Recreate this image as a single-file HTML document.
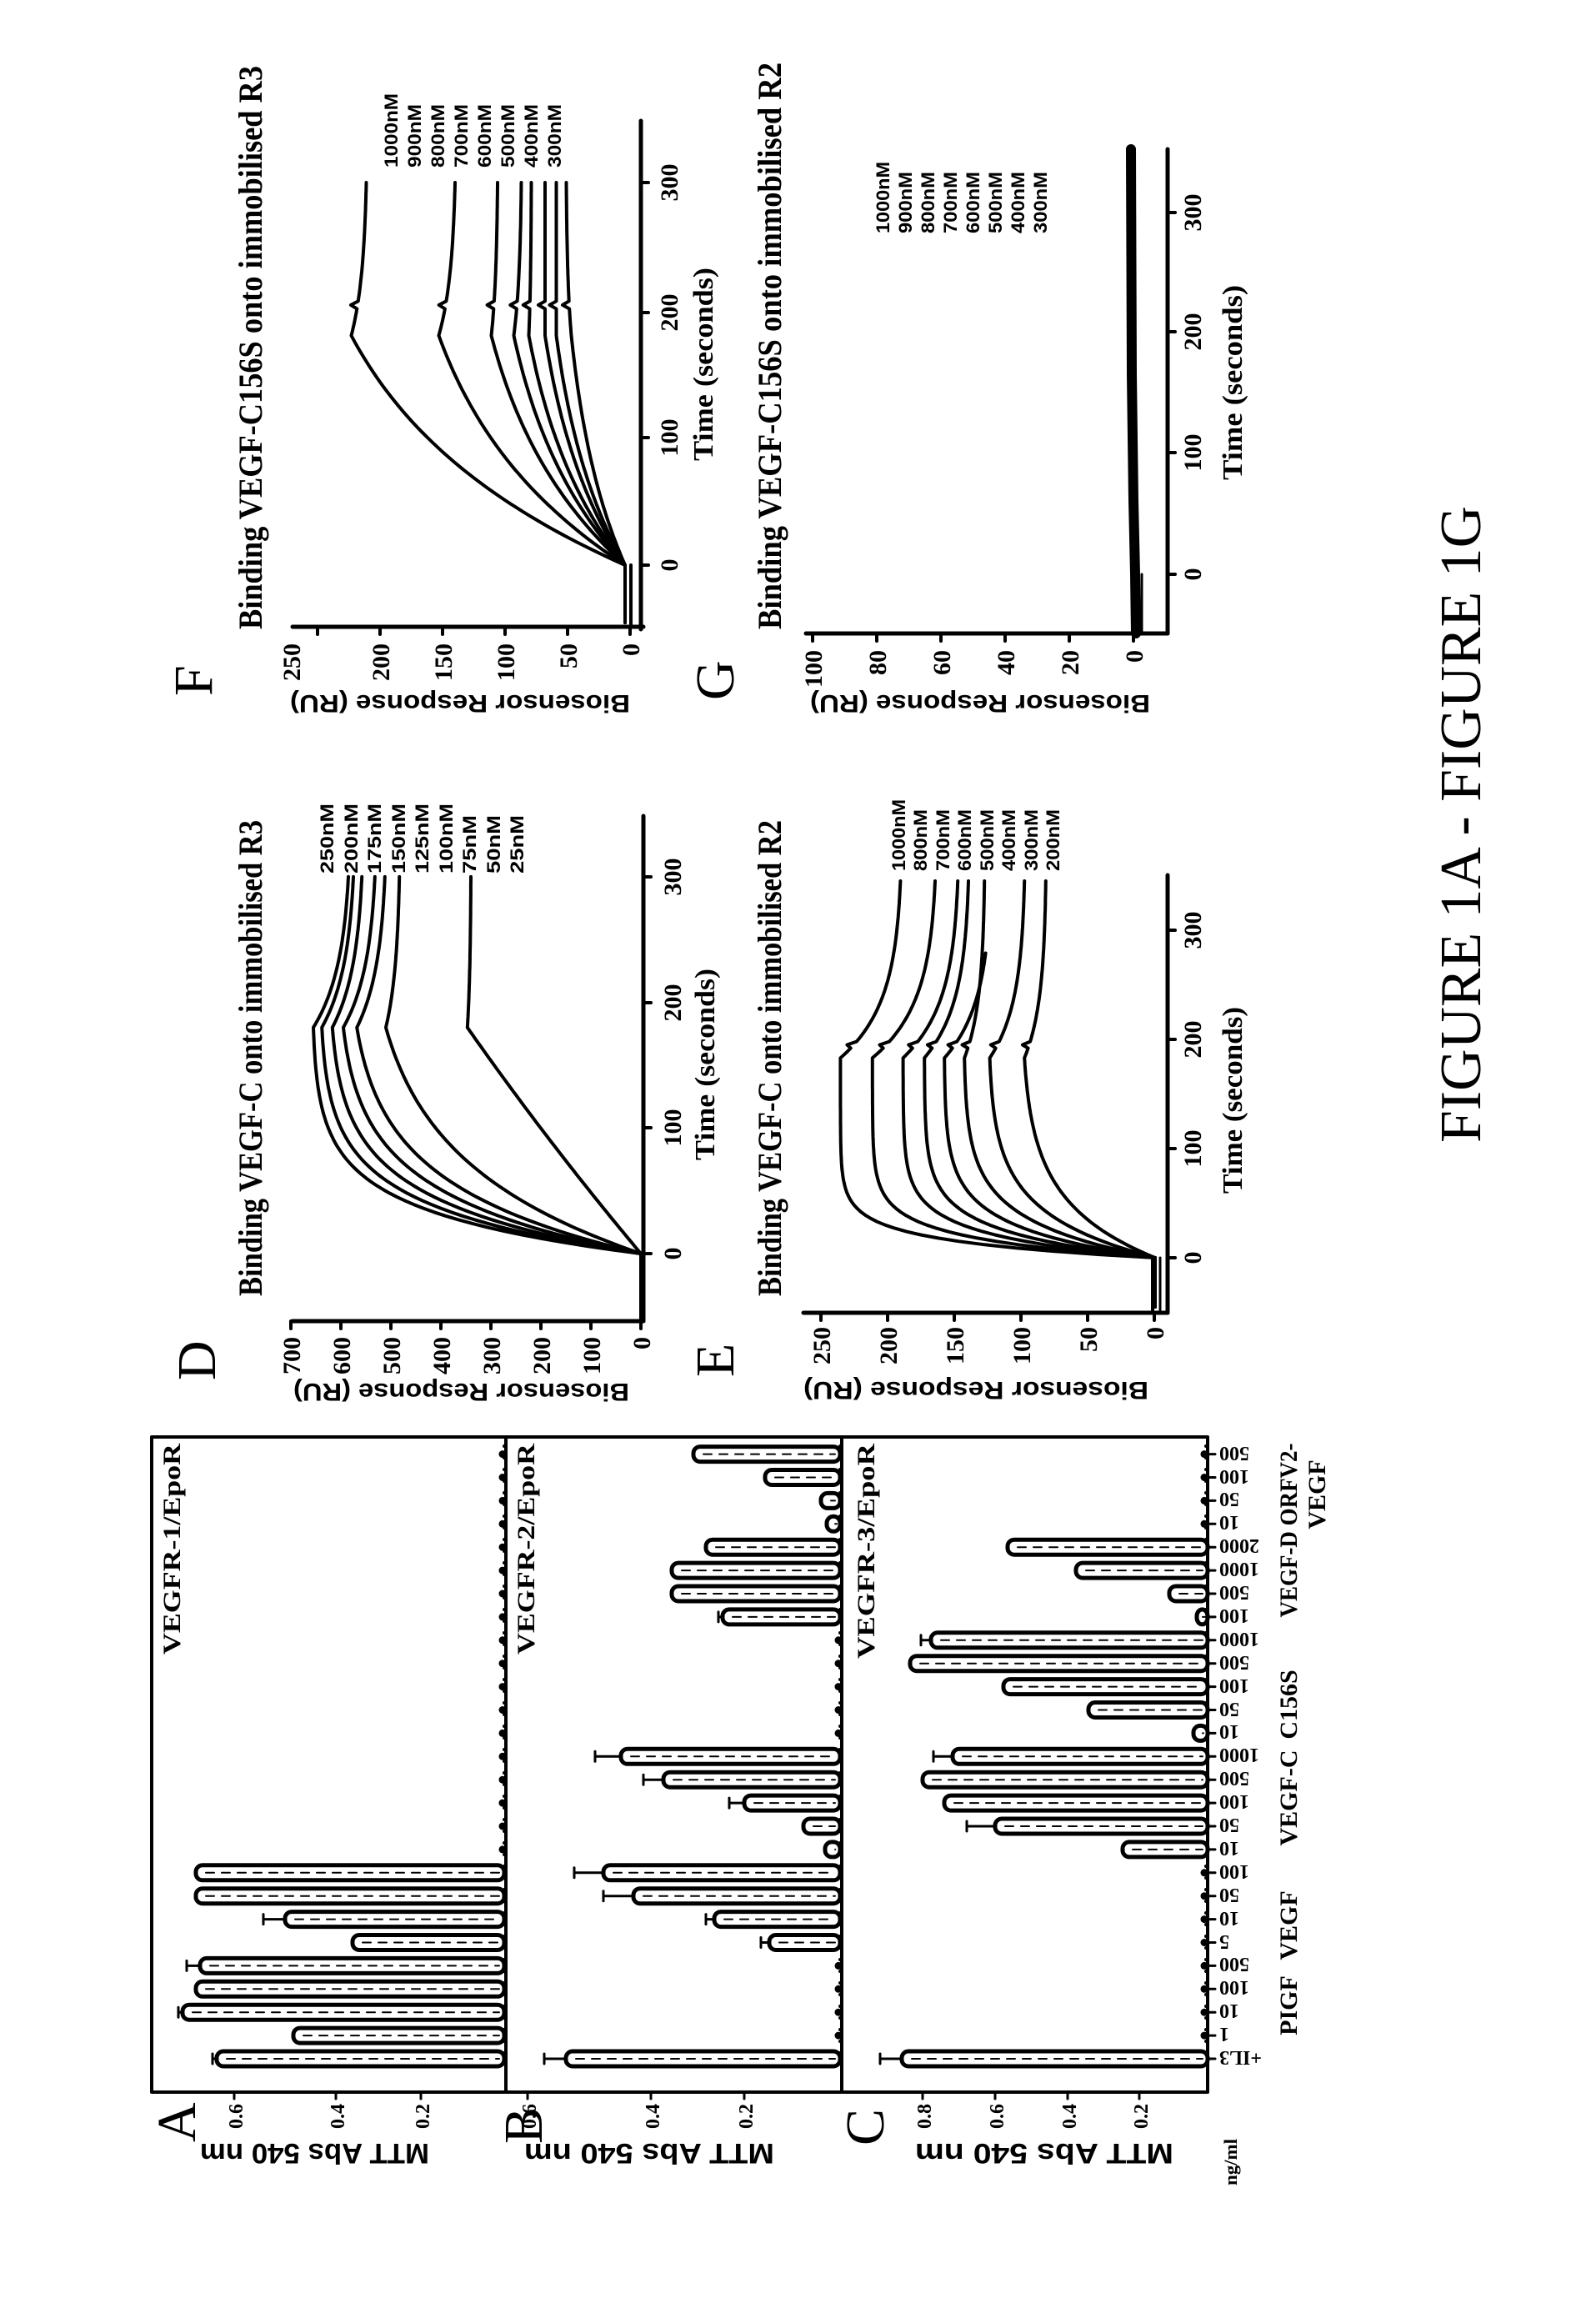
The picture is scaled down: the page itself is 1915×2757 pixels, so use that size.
<!DOCTYPE html>
<html><head><meta charset="utf-8"><style>
html,body{margin:0;padding:0;background:#fff;}
svg{display:block;}
text{font-family:"Liberation Serif",serif;font-weight:bold;fill:#000;}
.s{font-family:"Liberation Sans",sans-serif;}
</style></head><body>
<svg id="svg" width="1915" height="2757" viewBox="0 0 1915 2757" xmlns="http://www.w3.org/2000/svg">
<rect width="1915" height="2757" fill="#fff"/>
<g id="dyn" stroke="#000" fill="none" stroke-linecap="round" stroke-linejoin="round"></g>

<text transform="translate(1776,1371) rotate(-90)" font-size="70" style="font-weight:normal" textLength="764" lengthAdjust="spacingAndGlyphs">FIGURE 1A - FIGURE 1G</text>

<text transform="translate(314,755) rotate(-90)" font-size="40" textLength="676" lengthAdjust="spacingAndGlyphs">Binding VEGF-C156S onto immobilised R3</text>
<text transform="translate(937,755) rotate(-90)" font-size="40" textLength="680" lengthAdjust="spacingAndGlyphs">Binding VEGF-C156S onto immobilised R2</text>
<text transform="translate(314,1555) rotate(-90)" font-size="40" textLength="571" lengthAdjust="spacingAndGlyphs">Binding VEGF-C onto immobilised R3</text>
<text transform="translate(937,1555) rotate(-90)" font-size="40" textLength="571" lengthAdjust="spacingAndGlyphs">Binding VEGF-C onto immobilised R2</text>

<text transform="translate(254,835) rotate(-90)" font-size="66" style="font-weight:normal">F</text>
<text transform="translate(880,840) rotate(-90)" font-size="66" style="font-weight:normal">G</text>
<text transform="translate(258,1656) rotate(-90)" font-size="66" style="font-weight:normal">D</text>
<text transform="translate(880,1652) rotate(-90)" font-size="66" style="font-weight:normal">E</text>
<text transform="translate(234,2570) rotate(-90)" font-size="66" style="font-weight:normal">A</text>
<text transform="translate(650,2572) rotate(-90)" font-size="66" style="font-weight:normal">B</text>
<text transform="translate(1060,2574) rotate(-90)" font-size="66" style="font-weight:normal">C</text>

<g class="s" font-size="30">
<text class="s" transform="translate(756,834) rotate(180)" textLength="408" lengthAdjust="spacingAndGlyphs">Biosensor Response (RU)</text>
<text class="s" transform="translate(1380,834) rotate(180)" textLength="408" lengthAdjust="spacingAndGlyphs">Biosensor Response (RU)</text>
<text class="s" transform="translate(755,1660) rotate(180)" textLength="403" lengthAdjust="spacingAndGlyphs">Biosensor Response (RU)</text>
<text class="s" transform="translate(1378,1658) rotate(180)" textLength="414" lengthAdjust="spacingAndGlyphs">Biosensor Response (RU)</text>
</g>
<text class="s" transform="translate(515,2572) rotate(180)" font-size="34" textLength="275" lengthAdjust="spacingAndGlyphs">MTT Abs 540 nm</text>
<text class="s" transform="translate(929,2572) rotate(180)" font-size="34" textLength="300" lengthAdjust="spacingAndGlyphs">MTT Abs 540 nm</text>
<text class="s" transform="translate(1408,2572) rotate(180)" font-size="34" textLength="310" lengthAdjust="spacingAndGlyphs">MTT Abs 540 nm</text>
<text transform="translate(1484,2622) rotate(-90)" font-size="22" textLength="56" lengthAdjust="spacingAndGlyphs">ng/ml</text>

<g font-size="30">
<text transform="translate(360,772) rotate(-90)" text-anchor="end">250</text>
<text transform="translate(467,772) rotate(-90)" text-anchor="end">200</text>
<text transform="translate(542,772) rotate(-90)" text-anchor="end">150</text>
<text transform="translate(617,772) rotate(-90)" text-anchor="end">100</text>
<text transform="translate(692,772) rotate(-90)" text-anchor="end">50</text>
<text transform="translate(767,772) rotate(-90)" text-anchor="end">0</text>

<text transform="translate(986,780) rotate(-90)" text-anchor="end">100</text>
<text transform="translate(1063,780) rotate(-90)" text-anchor="end">80</text>
<text transform="translate(1140,780) rotate(-90)" text-anchor="end">60</text>
<text transform="translate(1217,780) rotate(-90)" text-anchor="end">40</text>
<text transform="translate(1294,780) rotate(-90)" text-anchor="end">20</text>
<text transform="translate(1371,780) rotate(-90)" text-anchor="end">0</text>

<text transform="translate(360,1604) rotate(-90)" text-anchor="end">700</text>
<text transform="translate(420,1604) rotate(-90)" text-anchor="end">600</text>
<text transform="translate(480,1604) rotate(-90)" text-anchor="end">500</text>
<text transform="translate(540,1604) rotate(-90)" text-anchor="end">400</text>
<text transform="translate(600,1604) rotate(-90)" text-anchor="end">300</text>
<text transform="translate(660,1604) rotate(-90)" text-anchor="end">200</text>
<text transform="translate(720,1604) rotate(-90)" text-anchor="end">100</text>
<text transform="translate(780,1604) rotate(-90)" text-anchor="end">0</text>

<text transform="translate(996,1592) rotate(-90)" text-anchor="end">250</text>
<text transform="translate(1076,1592) rotate(-90)" text-anchor="end">200</text>
<text transform="translate(1156,1592) rotate(-90)" text-anchor="end">150</text>
<text transform="translate(1236,1592) rotate(-90)" text-anchor="end">100</text>
<text transform="translate(1316,1592) rotate(-90)" text-anchor="end">50</text>
<text transform="translate(1396,1592) rotate(-90)" text-anchor="end">0</text>
</g>

<g font-size="30" text-anchor="middle">
<text transform="translate(813,678) rotate(-90)">0</text>
<text transform="translate(813,525) rotate(-90)">100</text>
<text transform="translate(813,375) rotate(-90)">200</text>
<text transform="translate(813,219) rotate(-90)">300</text>
<text transform="translate(1441,689) rotate(-90)">0</text>
<text transform="translate(1441,543) rotate(-90)">100</text>
<text transform="translate(1441,398) rotate(-90)">200</text>
<text transform="translate(1441,255) rotate(-90)">300</text>
<text transform="translate(817,1504) rotate(-90)">0</text>
<text transform="translate(817,1353) rotate(-90)">100</text>
<text transform="translate(817,1203) rotate(-90)">200</text>
<text transform="translate(817,1052) rotate(-90)">300</text>
<text transform="translate(1441,1509) rotate(-90)">0</text>
<text transform="translate(1441,1378) rotate(-90)">100</text>
<text transform="translate(1441,1247) rotate(-90)">200</text>
<text transform="translate(1441,1116) rotate(-90)">300</text>
</g>
<g font-size="34" text-anchor="middle">
<text transform="translate(855,437) rotate(-90)" textLength="232" lengthAdjust="spacingAndGlyphs">Time (seconds)</text>
<text transform="translate(1490,459) rotate(-90)" textLength="234" lengthAdjust="spacingAndGlyphs">Time (seconds)</text>
<text transform="translate(857,1277) rotate(-90)" textLength="230" lengthAdjust="spacingAndGlyphs">Time (seconds)</text>
<text transform="translate(1490,1320) rotate(-90)" textLength="224" lengthAdjust="spacingAndGlyphs">Time (seconds)</text>
</g>

<g class="s" font-size="22" font-weight="bold">
<text class="s" transform="translate(477,201) rotate(-90)" textLength="89" lengthAdjust="spacingAndGlyphs">1000nM</text>
<text class="s" transform="translate(505,201) rotate(-90)" textLength="76" lengthAdjust="spacingAndGlyphs">900nM</text>
<text class="s" transform="translate(533,201) rotate(-90)" textLength="76" lengthAdjust="spacingAndGlyphs">800nM</text>
<text class="s" transform="translate(561,201) rotate(-90)" textLength="76" lengthAdjust="spacingAndGlyphs">700nM</text>
<text class="s" transform="translate(589,201) rotate(-90)" textLength="76" lengthAdjust="spacingAndGlyphs">600nM</text>
<text class="s" transform="translate(617,201) rotate(-90)" textLength="76" lengthAdjust="spacingAndGlyphs">500nM</text>
<text class="s" transform="translate(645,201) rotate(-90)" textLength="76" lengthAdjust="spacingAndGlyphs">400nM</text>
<text class="s" transform="translate(673,201) rotate(-90)" textLength="76" lengthAdjust="spacingAndGlyphs">300nM</text>

<text class="s" transform="translate(1067,280) rotate(-90)" textLength="86" lengthAdjust="spacingAndGlyphs">1000nM</text>
<text class="s" transform="translate(1094,280) rotate(-90)" textLength="74" lengthAdjust="spacingAndGlyphs">900nM</text>
<text class="s" transform="translate(1121,280) rotate(-90)" textLength="74" lengthAdjust="spacingAndGlyphs">800nM</text>
<text class="s" transform="translate(1148,280) rotate(-90)" textLength="74" lengthAdjust="spacingAndGlyphs">700nM</text>
<text class="s" transform="translate(1175,280) rotate(-90)" textLength="74" lengthAdjust="spacingAndGlyphs">600nM</text>
<text class="s" transform="translate(1202,280) rotate(-90)" textLength="74" lengthAdjust="spacingAndGlyphs">500nM</text>
<text class="s" transform="translate(1229,280) rotate(-90)" textLength="74" lengthAdjust="spacingAndGlyphs">400nM</text>
<text class="s" transform="translate(1256,280) rotate(-90)" textLength="74" lengthAdjust="spacingAndGlyphs">300nM</text>

<text class="s" transform="translate(400,1048) rotate(-90)" textLength="84" lengthAdjust="spacingAndGlyphs">250nM</text>
<text class="s" transform="translate(429,1048) rotate(-90)" textLength="84" lengthAdjust="spacingAndGlyphs">200nM</text>
<text class="s" transform="translate(457,1048) rotate(-90)" textLength="84" lengthAdjust="spacingAndGlyphs">175nM</text>
<text class="s" transform="translate(486,1048) rotate(-90)" textLength="84" lengthAdjust="spacingAndGlyphs">150nM</text>
<text class="s" transform="translate(514,1048) rotate(-90)" textLength="84" lengthAdjust="spacingAndGlyphs">125nM</text>
<text class="s" transform="translate(543,1048) rotate(-90)" textLength="84" lengthAdjust="spacingAndGlyphs">100nM</text>
<text class="s" transform="translate(571,1048) rotate(-90)" textLength="70" lengthAdjust="spacingAndGlyphs">75nM</text>
<text class="s" transform="translate(600,1048) rotate(-90)" textLength="70" lengthAdjust="spacingAndGlyphs">50nM</text>
<text class="s" transform="translate(628,1048) rotate(-90)" textLength="70" lengthAdjust="spacingAndGlyphs">25nM</text>

<text class="s" transform="translate(1086,1045) rotate(-90)" textLength="86" lengthAdjust="spacingAndGlyphs">1000nM</text>
<text class="s" transform="translate(1112,1045) rotate(-90)" textLength="74" lengthAdjust="spacingAndGlyphs">800nM</text>
<text class="s" transform="translate(1139,1045) rotate(-90)" textLength="74" lengthAdjust="spacingAndGlyphs">700nM</text>
<text class="s" transform="translate(1165,1045) rotate(-90)" textLength="74" lengthAdjust="spacingAndGlyphs">600nM</text>
<text class="s" transform="translate(1192,1045) rotate(-90)" textLength="74" lengthAdjust="spacingAndGlyphs">500nM</text>
<text class="s" transform="translate(1218,1045) rotate(-90)" textLength="74" lengthAdjust="spacingAndGlyphs">400nM</text>
<text class="s" transform="translate(1245,1045) rotate(-90)" textLength="74" lengthAdjust="spacingAndGlyphs">300nM</text>
<text class="s" transform="translate(1271,1045) rotate(-90)" textLength="74" lengthAdjust="spacingAndGlyphs">200nM</text>
</g>

<text transform="translate(216,1985) rotate(-90)" font-size="30" textLength="253" lengthAdjust="spacingAndGlyphs">VEGFR-1/EpoR</text>
<text transform="translate(641,1985) rotate(-90)" font-size="30" textLength="253" lengthAdjust="spacingAndGlyphs">VEGFR-2/EpoR</text>
<text transform="translate(1049,1990) rotate(-90)" font-size="30" textLength="258" lengthAdjust="spacingAndGlyphs">VEGFR-3/EpoR</text>

<g font-size="24">
<text transform="translate(291,2524) rotate(-90)" text-anchor="end">0.6</text>
<text transform="translate(413,2524) rotate(-90)" text-anchor="end">0.4</text>
<text transform="translate(515,2524) rotate(-90)" text-anchor="end">0.2</text>
<text transform="translate(643,2524) rotate(-90)" text-anchor="end">0.6</text>
<text transform="translate(791,2524) rotate(-90)" text-anchor="end">0.4</text>
<text transform="translate(903,2524) rotate(-90)" text-anchor="end">0.2</text>
<text transform="translate(1117,2524) rotate(-90)" text-anchor="end">0.8</text>
<text transform="translate(1204,2524) rotate(-90)" text-anchor="end">0.6</text>
<text transform="translate(1291,2524) rotate(-90)" text-anchor="end">0.4</text>
<text transform="translate(1377,2524) rotate(-90)" text-anchor="end">0.2</text>
</g>

<g font-size="30" text-anchor="middle">
<text transform="translate(1556,2406) rotate(-90)">PIGF</text>
<text transform="translate(1556,2310) rotate(-90)">VEGF</text>
<text transform="translate(1556,2157) rotate(-90)">VEGF-C</text>
<text transform="translate(1556,2045) rotate(-90)">C156S</text>
<text transform="translate(1556,1836) rotate(-90)" textLength="209" lengthAdjust="spacingAndGlyphs">VEGF-D ORFV2-</text>
<text transform="translate(1590,1793) rotate(-90)">VEGF</text>
</g>

<g id="xl" font-size="24" text-anchor="end">
<text transform="translate(1463,2461) rotate(180)">+IL3</text>
<text transform="translate(1463,2433) rotate(180)">1</text>
<text transform="translate(1463,2405) rotate(180)">10</text>
<text transform="translate(1463,2377) rotate(180)">100</text>
<text transform="translate(1463,2349) rotate(180)">500</text>
<text transform="translate(1463,2322) rotate(180)">5</text>
<text transform="translate(1463,2294) rotate(180)">10</text>
<text transform="translate(1463,2266) rotate(180)">50</text>
<text transform="translate(1463,2238) rotate(180)">100</text>
<text transform="translate(1463,2210) rotate(180)">10</text>
<text transform="translate(1463,2182) rotate(180)">50</text>
<text transform="translate(1463,2154) rotate(180)">100</text>
<text transform="translate(1463,2126) rotate(180)">500</text>
<text transform="translate(1463,2098) rotate(180)">1000</text>
<text transform="translate(1463,2070) rotate(180)">10</text>
<text transform="translate(1463,2043) rotate(180)">50</text>
<text transform="translate(1463,2015) rotate(180)">100</text>
<text transform="translate(1463,1987) rotate(180)">500</text>
<text transform="translate(1463,1959) rotate(180)">1000</text>
<text transform="translate(1463,1931) rotate(180)">100</text>
<text transform="translate(1463,1903) rotate(180)">500</text>
<text transform="translate(1463,1875) rotate(180)">1000</text>
<text transform="translate(1463,1847) rotate(180)">2000</text>
<text transform="translate(1463,1819) rotate(180)">10</text>
<text transform="translate(1463,1791) rotate(180)">50</text>
<text transform="translate(1463,1764) rotate(180)">100</text>
<text transform="translate(1463,1736) rotate(180)">500</text>
</g>
</svg>
<script>
(function(){
var g=document.getElementById('dyn');var NS='http://www.w3.org/2000/svg';
function el(n,a){var e=document.createElementNS(NS,n);for(var k in a)e.setAttribute(k,a[k]);g.appendChild(e);return e;}
function line(x1,y1,x2,y2,w){el('line',{x1:x1,y1:y1,x2:x2,y2:y2,'stroke-width':w||4});}
function axes(vy,vx1,vx2,tx,ty1,ty2,vt,tt){
 line(vx1,vy,vx2,vy,5);line(tx,ty1,tx,ty2,5);
 vt.forEach(function(x){line(x,vy,x,vy+9,4);});
 tt.forEach(function(y){line(tx,y,tx+9,y,4);});
}
axes(752,351,772,769,145,755,[381,456,531,606,681,756],[678,525,375,219]);
axes(760,967,1401,1401,179,760,[975,1052,1129,1206,1283,1360],[689,543,398,255]);
axes(1585,351,772,772,979,1585,[349,409,469,529,589,649,709,769],[1504,1353,1203,1052]);
axes(1575,964,1401,1401,1050,1575,[985,1065,1145,1225,1305,1385],[1509,1378,1247,1116]);
function curve(p,P,E,k,tp,tend,spike){
 var pts=[];var span=tend-tp;
 for(var t=-45;t<=tend;t+=3){
  var R;
  if(t<0)R=0;else if(t<=tp)R=P*(1-Math.exp(-k*t))/(1-Math.exp(-k*tp));
  else R=P-(P-E)*(1-Math.exp(-(t-tp)*0.02))/(1-Math.exp(-span*0.02));
  var x=p.x0-R*p.r, y=p.y0-t*p.s;
  if(spike && Math.abs(t-spike)<2) x-=8;
  pts.push(x.toFixed(1)+','+y.toFixed(1));
 }
 el('polyline',{points:pts.join(' '),'stroke-width':4});
}
var D={x0:769,r:0.6,y0:1504,s:1.507};
[[655,585,0.03],[638,575,0.027],[617,558,0.024],[595,532,0.021],[568,512,0.018],[510,483,0.013],[347,340,0.001]].forEach(function(c){curve(D,c[0],c[1],c[2],180,300);});
var E={x0:1386,r:1.6,y0:1509,s:1.31};
[[236,191,0.065,345],[212,165,0.055,345],[189,148,0.048,345],[173,140,0.042,345],[158,127,0.036,280],[143,128,0.03,345],[124,98,0.025,345],[98,82,0.02,345]].forEach(function(c){curve(E,c[0],c[1],c[2],183,c[3],195);});
var F={x0:750,r:1.5,y0:678,s:1.53};
[[219,207],[149,136],[107,102],[89,83],[77,75],[64,64],[55,55],[43,47]].forEach(function(c){curve(F,c[0],c[1],0.008,180,300,205);});
line(757,678,757,752,4);line(1383,1509,1383,1575,4);line(1392,1509,1392,1575,3);line(769,1504,769,1585,4);
el('polyline',{points:'1363,760 1362,689 1360,600 1358,450 1357,179','stroke-width':12});
line(1370,689,1370,760,3);
el('rect',{x:182,y:1724,width:1267,height:786,'stroke-width':4});
line(607,1724,607,2510,4);line(1010,1724,1010,2510,4);
[281,403,505,633,781,893,1107,1194,1281,1367].forEach(function(a){line(a,2510,a,2518,3);});
function sy(i){return 2470-27.9*i;}
for(var i=0;i<27;i++){line(1449,sy(i),1458,sy(i),3);}
[607,1010,1449].forEach(function(b){for(var i=0;i<27;i++){el('circle',{cx:b-4,cy:sy(i),r:4,fill:'#000','stroke-width':1});}
 for(var y=1735;y<2470;y+=14){el('circle',{cx:b-2,cy:y,r:2,fill:'#000','stroke-width':0});}});
function bar(base,i,left,err){
 var y=sy(i);
 if(err){line(err,y,left,y,3);line(err,y-6,err,y+6,3);}
 el('rect',{x:left,y:y-9,width:base-left,height:18,rx:8,fill:'#fff','stroke-width':5});
 el('line',{x1:left+12,y1:y,x2:base-6,y2:y,'stroke-width':2,'stroke-dasharray':'10 9'});
}
var A=[[0,260,255],[1,352],[2,219,214],[3,235],[4,240,224],[5,423],[6,342,316],[7,235],[8,235]];
A.forEach(function(b){bar(605,b[0],b[1],b[2]);});
var B=[[0,679,653],[5,923,913],[6,857,847],[7,760,724],[8,724,689],[10,964],[11,893,875],[12,796,772],[13,745,714],[19,867,862],[20,806],[21,806],[22,847],[24,985],[25,918],[26,832],[9,990],[23,992]];
B.forEach(function(b){bar(1008,b[0],b[1],b[2]);});
var C=[[0,1082,1056],[9,1347],[10,1194,1160],[11,1133],[12,1107],[13,1143,1120],[14,1432],[15,1306],[16,1204],[17,1092],[18,1117,1105],[19,1436],[20,1403],[21,1291],[22,1209]];
C.forEach(function(b){bar(1449,b[0],b[1],b[2]);});
})();
</script>
</body></html>
